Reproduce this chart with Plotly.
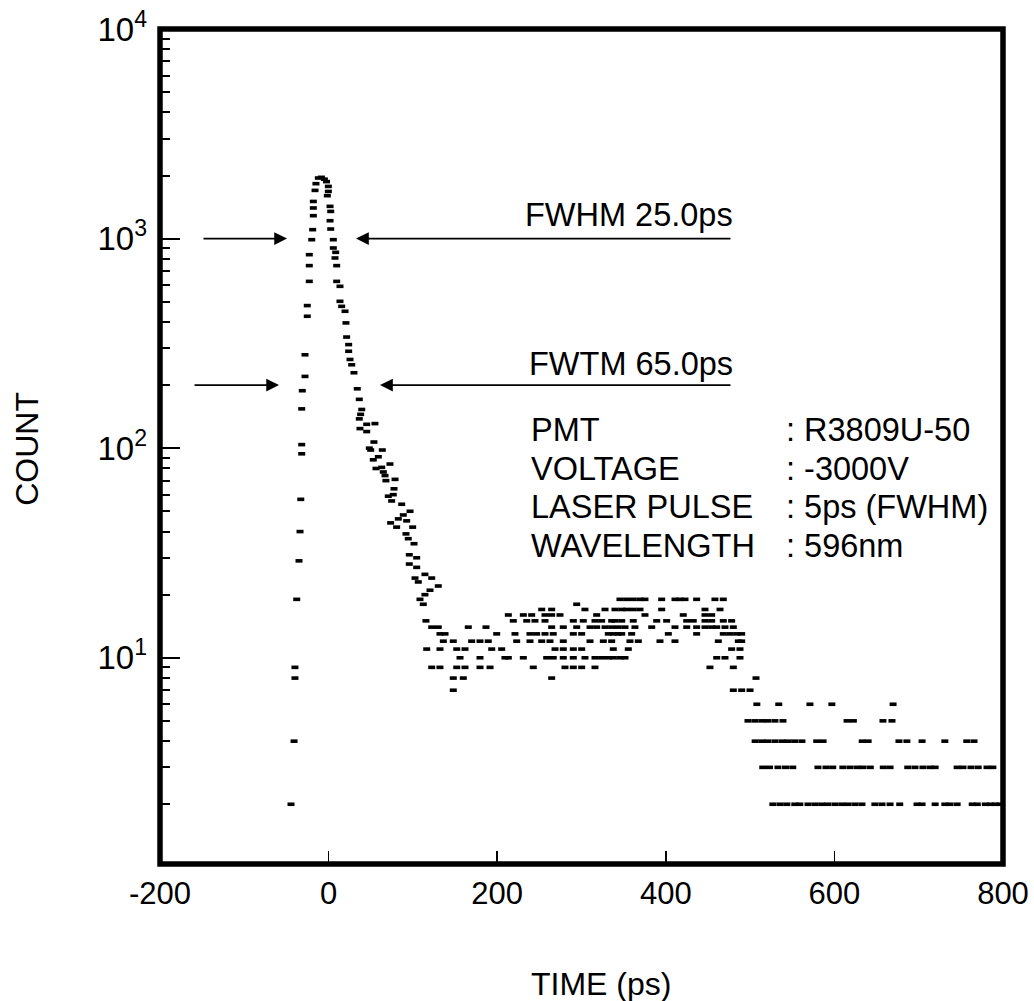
import math
import plotly.graph_objects as go

# ---------------- data ----------------
# rising edge of the peak (time ps, counts)
rise_time = [-44.6, -41.0, -39.9, -39.9, -37.8, -35.1, -33.9, -33.0, -31.9, -31.9,
             -31.9, -31.2, -28.0, -28.0, -25.3, -25.3, -22.9, -22.9, -22.9, -20.0,
             -18.9, -18.1, -18.1, -18.1, -16.1, -15.0, -12.2, -8.5, -5.0, -2.5]
rise_count = [2, 4, 8, 9, 19, 29, 40, 57, 94, 104,
              154, 188, 220, 279, 426, 479, 625, 743, 838, 988,
              1103, 1286, 1400, 1504, 1698, 1828, 1945, 1960, 1920, 1870]

# falling edge / decay of the peak
decay_time = [-0.3, -0.3, -1.5, 1.7, 2.5, 1.7, 2.5, 5.6, 5.6, 8.4,
              7.6, 9.6, 9.6, 13.5, 13.5, 15.5, 19.5, 20.6, 21.4, 23.8,
              23.8, 25.4, 27.4, 30.1, 34.0, 36.4, 39.3, 38.0, 36.4, 45.2,
              55.0, 37.2, 45.2, 53.8, 48.3, 49.9, 63.7, 59.0, 53.0, 72.8,
              63.0, 56.2, 64.9, 66.9, 78.8, 68.0, 77.6, 76.7, 70.8, 74.8,
              86.7, 96.6, 88.6, 82.7, 92.6, 73.6, 80.7, 99.7, 91.8, 94.5,
              101.3, 95.7, 104.5, 95.7, 104.5, 114.3, 102.5, 122.3, 106.4, 130.1,
              120.3, 114.3, 108.4, 112.3]
decay_count = [1774, 1679, 1602, 1425, 1348, 1217, 1111, 988, 902, 860,
               808, 743, 625, 592, 502, 475, 450, 396, 339, 312,
               290, 265, 250, 229, 192, 171, 153, 145, 138, 130,
               131, 124, 120, 107, 100, 98, 98, 91, 88, 84,
               81, 80, 77, 74, 71, 70, 64, 60, 59, 56,
               54, 50, 48, 46, 45, 44, 42, 42, 39, 37,
               35, 31, 30, 28, 27, 25, 24, 24, 23, 22,
               21, 20, 19, 18]

# plateau and tail: times (ps) of the channels holding each integer count
times_at_19 = [345.6, 353.6, 361.4, 369.4, 375.3, 395.1, 410.9, 416.8, 422.8, 436.6, 458.3, 468.2]
times_at_18 = [294.3]
times_at_17 = [252.8, 264.6, 304.1, 327.9, 339.7, 347.7, 353.6, 361.4, 369.4, 395.1, 446.5, 464.3]
times_at_16 = [213.2, 231.0, 240.9, 256.7, 264.6, 274.5, 318.0, 375.3, 420.7, 446.5, 454.4]
times_at_15 = [115.5, 219.1, 235.0, 244.8, 256.7, 290.3, 302.1, 316.0, 323.9, 335.8, 339.7,
               347.7, 361.4, 389.2, 401.0, 424.8, 432.6, 446.5, 454.4, 468.2, 478.1]
times_at_14 = [122.3, 130.1, 165.7, 186.7, 264.6, 278.4, 294.3, 310.1, 318.0, 327.9, 335.8,
               343.6, 351.6, 363.4, 383.3, 410.9, 424.8, 436.6, 446.5, 454.4, 460.4, 470.2, 480.1]
times_at_13 = [132.1, 138.1, 199.4, 221.1, 238.9, 246.8, 256.7, 266.5, 290.3, 300.2, 331.8,
               337.7, 343.6, 347.7, 359.5, 403.0, 436.6, 468.2, 476.1, 484.1, 490.0]
times_at_12 = [136.1, 147.9, 169.7, 179.6, 189.4, 223.1, 238.9, 252.8, 262.6, 278.4, 310.1,
               325.9, 335.8, 357.5, 367.4, 393.1, 410.9, 462.3, 486.0, 490.0]
times_at_11 = [116.4, 132.1, 152.0, 161.8, 193.5, 205.3, 268.6, 278.4, 290.3, 300.2, 337.7,
               355.5, 478.1, 488.0]
times_at_10 = [155.9, 179.6, 209.2, 213.2, 231.0, 258.7, 266.5, 278.4, 290.3, 304.1, 316.0,
               323.9, 331.8, 337.7, 345.6, 351.6, 460.4, 470.2, 488.0]
times_at_9 = [122.3, 132.1, 152.0, 161.8, 179.6, 191.5, 242.8, 280.4, 290.3, 300.2, 316.0,
              452.4, 480.1]
times_at_8 = [147.9, 159.8, 264.6, 507.0]
times_at_7 = [147.9, 480.1, 490.0, 499.9]
times_at_6 = [508.0, 534.0, 571.0, 597.0, 669.6]
times_at_5 = [497.5, 505.8, 514.0, 521.0, 529.5, 539.0, 615.0, 622.5, 657.6, 668.3]
times_at_4 = [506.0, 514.0, 521.0, 529.5, 538.0, 545.0, 553.0, 561.5, 579.0, 586.6, 633.0,
              640.0, 676.6, 686.0, 704.0, 731.0, 757.0, 765.6]
times_at_3 = [515.0, 523.0, 533.0, 542.0, 550.6, 580.5, 590.0, 598.0, 610.0, 618.5, 627.0,
              634.0, 642.6, 658.0, 666.0, 687.0, 695.6, 705.0, 713.5, 719.5, 745.6, 752.6,
              762.0, 770.6, 781.0, 788.0]
times_at_2 = [527.0, 535.5, 543.6, 553.0, 559.0, 568.7, 577.0, 585.0, 592.0, 600.6, 608.8,
              616.0, 624.4, 632.7, 648.0, 656.5, 666.0, 677.5, 698.0, 704.0, 719.5, 731.0,
              737.0, 745.6, 763.5, 769.5, 779.0, 785.0, 791.0, 796.5]

x_ticks = [-200, 0, 200, 400, 600, 800]
x_tick_text = ["-200", "0", "200", "400", "600", "800"]
y_major = [10, 100, 1000, 10000]
y_major_text = ["10<sup>1</sup>", "10<sup>2</sup>", "10<sup>3</sup>", "10<sup>4</sup>"]

fwhm_level = 1000
fwtm_level = 200
info_labels = ["PMT", "VOLTAGE", "LASER PULSE", "WAVELENGTH"]
info_values = ["R3809U-50", "-3000V", "5ps (FWHM)", "596nm"]

# ---------------- assemble ----------------
levels = [(19, times_at_19), (18, times_at_18), (17, times_at_17), (16, times_at_16),
          (15, times_at_15), (14, times_at_14), (13, times_at_13), (12, times_at_12),
          (11, times_at_11), (10, times_at_10), (9, times_at_9), (8, times_at_8),
          (7, times_at_7), (6, times_at_6), (5, times_at_5), (4, times_at_4),
          (3, times_at_3), (2, times_at_2)]
all_t = list(rise_time) + list(decay_time)
all_c = list(rise_count) + list(decay_count)
for c, ts in levels:
    all_t += ts
    all_c += [c] * len(ts)

minor_vals = []
for dec in [1, 10, 100, 1000]:
    for m in range(2, 10):
        minor_vals.append(m * dec)

FONT = "Liberation Sans, Arial, Helvetica, sans-serif"

fig = go.Figure()
fig.add_trace(go.Scatter(
    x=all_t, y=all_c, mode="markers",
    marker=dict(symbol="line-ew", size=5, color="black",
                line=dict(width=3.6, color="black")),
    hoverinfo="skip", showlegend=False))

# frame at x 160..1003, y 29..864 of the window (page body margin removed below)
fig.update_layout(
    width=1034, height=1001,
    margin=dict(l=160, r=31, t=29, b=137, autoexpand=False),
    paper_bgcolor="white", plot_bgcolor="white",
    font=dict(family=FONT, size=32, color="black"),
    xaxis=dict(range=[-200, 800], tickmode="array", tickvals=x_ticks, ticktext=x_tick_text,
               ticks="inside", ticklen=13, tickwidth=1.5, tickcolor="black",
               showgrid=False, zeroline=False, showline=False, automargin=False,
               tickfont=dict(family=FONT, size=31, color="black"),
               ticklabelstandoff=8, ticklabeloverflow="allow"),
    yaxis=dict(type="log", range=[0.016, 4.0], tickmode="array",
               tickvals=y_major, ticktext=y_major_text,
               ticks="inside", ticklen=20, tickwidth=2, tickcolor="black",
               showgrid=False, zeroline=False, showline=False, automargin=False,
               tickfont=dict(family=FONT, size=33, color="black"),
               ticklabelstandoff=12, ticklabeloverflow="allow",
               minor=dict(tickmode="array", tickvals=minor_vals, ticks="inside",
                          ticklen=10, tickwidth=2, tickcolor="black", showgrid=False)),
)

fig.add_shape(type="rect", xref="paper", yref="paper", x0=0, x1=1, y0=0, y1=1,
              line=dict(color="black", width=5.5), layer="above")

ann = []
# axis titles
ann.append(dict(text="TIME (ps)", xref="paper", yref="paper", x=0.523, y=-0.144,
                showarrow=False, font=dict(size=32), xanchor="center", yanchor="middle"))
ann.append(dict(text="COUNT", xref="paper", yref="paper", x=-0.158, y=0.497,
                showarrow=False, font=dict(size=32), textangle=-90,
                xanchor="center", yanchor="middle"))

# arrows
ly_hm = math.log10(fwhm_level)
ly_tm = math.log10(fwtm_level)
arrow_style = dict(showarrow=True, arrowhead=2, arrowsize=1.6, arrowwidth=1.6,
                   arrowcolor="black", xref="x", yref="y", axref="x", ayref="y", text="")
ann.append(dict(x=-49.3, y=ly_hm, ax=-150.2, ay=ly_hm, **arrow_style))
ann.append(dict(x=32.5, y=ly_hm, ax=478.5, ay=ly_hm, **arrow_style))
ann.append(dict(x=-58.8, y=ly_tm, ax=-160.8, ay=ly_tm, **arrow_style))
ann.append(dict(x=61.0, y=ly_tm, ax=478.5, ay=ly_tm, **arrow_style))

ann.append(dict(text="FWHM 25.0ps", xref="paper", yref="paper", x=0.6821, y=0.7778,
                xanchor="right", yanchor="middle", showarrow=False, font=dict(size=32.5)))
ann.append(dict(text="FWTM 65.0ps", xref="paper", yref="paper", x=0.6821, y=0.5988,
                xanchor="right", yanchor="middle", showarrow=False, font=dict(size=32.5)))

info_y = [0.5198, 0.4731, 0.4275, 0.3808]
for lab, val, yy in zip(info_labels, info_values, info_y):
    ann.append(dict(text=lab, xref="paper", yref="paper", x=0.4377, y=yy,
                    xanchor="left", yanchor="middle", showarrow=False, font=dict(size=32.5)))
    ann.append(dict(text=": " + val, xref="paper", yref="paper", x=0.7402, y=yy,
                    xanchor="left", yanchor="middle", showarrow=False, font=dict(size=32.5)))

fig.update_layout(annotations=ann)
fig.write_html("out.html", config={"displayModeBar": False, "staticPlot": True},
               post_script="document.body.style.margin='0px';document.body.style.overflow='hidden';")
